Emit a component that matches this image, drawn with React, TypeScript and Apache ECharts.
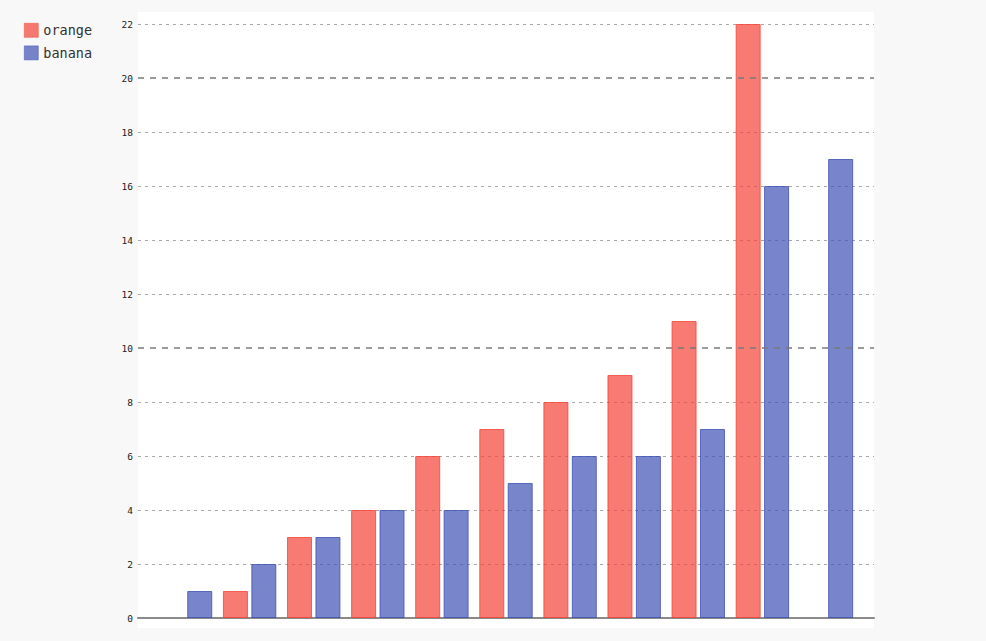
import React, { useEffect, useRef } from "react";
import * as echarts from "echarts";

const categories = ["1", "2", "3", "4", "5", "6", "7", "8", "9", "10", "11"];
const orangeValues = [null, 1, 3, 4, 6, 7, 8, 9, 11, 22, null];
const bananaValues = [1, 2, 3, 4, 4, 5, 6, 6, 7, 16, 17];
const majorLines = [10, 20];
const yMin = 0;
const yMax = 22;
const yStep = 2;

const FONT = "DejaVu Sans Mono";

export default function App() {
  const ref = useRef<HTMLDivElement>(null);
  useEffect(() => {
    document.body.style.margin = "0";
    const chart = echarts.init(ref.current!, null, { renderer: "svg" });
    const ticks = [];
    for (let v = yMin; v <= yMax; v += yStep) ticks.push(v);
    const splitColors = ticks.map((v) =>
      majorLines.includes(v) || v === 0 ? "rgba(0,0,0,0)" : "#a8a8a8"
    );
    chart.setOption({
      animation: false,
      backgroundColor: "#f8f8f8",
      graphic: [
        {
          type: "rect",
          z: -10,
          silent: true,
          shape: { x: 138, y: 12, width: 736, height: 616 },
          style: { fill: "#ffffff" },
        },
      ],
      legend: {
        orient: "vertical",
        left: 24,
        top: 23,
        padding: 0,
        itemWidth: 14,
        itemHeight: 14,
        itemGap: 8,
        icon: "rect",
        itemStyle: { borderWidth: 0.6 },
        textStyle: { fontFamily: FONT, fontSize: 13.5, color: "#333" },
        data: ["orange", "banana"],
      },
      grid: [
        { left: 138, right: 112, top: 24, bottom: 23 },
        { left: 153.5, right: 127.5, top: 24, bottom: 23 },
      ],
      xAxis: [
        {
          type: "value",
          gridIndex: 0,
          min: 0,
          max: 1,
          axisLine: { show: true, onZero: false, lineStyle: { color: "#8a8a8a", width: 2 } },
          axisTick: { show: false },
          axisLabel: { show: false },
          splitLine: { show: false },
        },
        {
          type: "category",
          gridIndex: 1,
          data: categories,
          show: false,
        },
      ],
      yAxis: [
        {
          type: "value",
          gridIndex: 0,
          min: yMin,
          max: yMax,
          interval: yStep,
          axisLine: { show: false },
          axisTick: { show: false },
          axisLabel: {
            fontFamily: FONT,
            fontSize: 9.5,
            color: "#222",
            margin: 5,
          },
          splitLine: {
            show: true,
            lineStyle: { color: splitColors, type: [3, 4], width: 1 },
          },
        },
        {
          type: "value",
          gridIndex: 1,
          min: yMin,
          max: yMax,
          show: false,
          splitLine: { show: false },
        },
      ],
      series: [
        {
          type: "line",
          xAxisIndex: 0,
          yAxisIndex: 0,
          data: [],
          silent: true,
          markLine: {
            silent: true,
            symbol: "none",
            label: { show: false },
            lineStyle: { color: "#7a7a7a", type: [6, 6], width: 1.5 },
            data: majorLines.map((v) => ({ yAxis: v })),
          },
        },
        {
          name: "orange",
          type: "bar",
          xAxisIndex: 1,
          yAxisIndex: 1,
          data: orangeValues,
          barWidth: 25,
          barGap: "13.6%",
          itemStyle: {
            color: "rgba(244,67,54,0.7)",
            borderColor: "rgba(244,67,54,0.8)",
            borderWidth: 1,
          },
        },
        {
          name: "banana",
          type: "bar",
          xAxisIndex: 1,
          yAxisIndex: 1,
          data: bananaValues,
          barWidth: 25,
          barGap: "13.6%",
          itemStyle: {
            color: "rgba(63,81,181,0.7)",
            borderColor: "rgba(63,81,181,0.8)",
            borderWidth: 1,
          },
        },
      ],
    });
    return () => chart.dispose();
  }, []);
  return <div ref={ref} style={{ width: 986, height: 641 }} />;
}
